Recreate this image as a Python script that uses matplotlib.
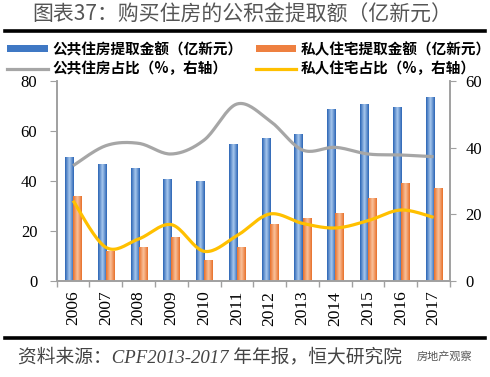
import numpy as np
import matplotlib
matplotlib.use("Agg")
import matplotlib.pyplot as plt
from matplotlib.lines import Line2D
from matplotlib.patches import Patch
from matplotlib.colors import LinearSegmentedColormap

years = ["2006", "2007", "2008", "2009", "2010", "2011", "2012", "2013", "2014", "2015", "2016", "2017"]
public_amt = [49.7, 46.8, 45.2, 40.8, 40.0, 54.9, 57.3, 58.7, 68.8, 70.8, 69.6, 73.6]
private_amt = [34.1, 12.1, 13.7, 17.7, 8.4, 13.7, 22.8, 25.3, 27.3, 33.3, 39.2, 37.3]
public_pct = [34.6, 40.6, 41.3, 38.1, 42.3, 53.1, 48.1, 39.3, 40.1, 38.1, 37.8, 37.3]
private_pct = [24.1, 10.1, 12.6, 16.9, 8.9, 13.6, 20.1, 17.3, 15.9, 18.1, 21.3, 19.1]

labels = ["公共住房提取金额（亿新元）", "私人住宅提取金额（亿新元）",
          "公共住房占比（%，右轴）", "私人住宅占比（%，右轴）"]
title = "图表37：购买住房的公积金提取额（亿新元）"
source = "资料来源：CPF2013-2017 年年报，恒大研究院"

CJK = ["Noto Sans CJK SC", "DejaVu Sans"]
SERIF = ["Liberation Serif", "Noto Sans CJK SC"]

BLUE = "#3f78c4"
ORANGE = "#ee8040"
GRAY = "#a6a6a6"
GOLD = "#ffc000"


def smooth(xs, ys, n=20):
    xs = np.asarray(xs, float)
    ys = np.asarray(ys, float)
    P = np.column_stack([xs, ys])
    P = np.vstack([P[0], P, P[-1]])
    out = []
    for i in range(1, len(P) - 2):
        p0, p1, p2, p3 = P[i - 1], P[i], P[i + 1], P[i + 2]
        t = np.linspace(0, 1, n, endpoint=False)[:, None]
        c1 = p1 + (p2 - p0) / 6
        c2 = p2 - (p3 - p1) / 6
        seg = ((1 - t) ** 3) * p1 + 3 * ((1 - t) ** 2) * t * c1 + 3 * (1 - t) * t ** 2 * c2 + t ** 3 * p2
        out.append(seg)
    out.append(P[-2][None, :])
    out = np.vstack(out)
    return out[:, 0], out[:, 1]


fig = plt.figure(figsize=(4.9, 3.77), dpi=100)
ax = fig.add_axes([56.7 / 490, 1 - 281 / 377, (450 - 56.7) / 490, 200 / 377])
ax2 = ax.twinx()

x = np.arange(len(years))
w = 0.245
bars1 = ax.bar(x - w / 2, public_amt, w, color=BLUE, linewidth=0, zorder=2)
bars2 = ax.bar(x + w / 2, private_amt, w, color=ORANGE, linewidth=0, zorder=2)

cm_blue = LinearSegmentedColormap.from_list("b", ["#2a64b4", "#a8c8ee", "#2a64b4"])
cm_orange = LinearSegmentedColormap.from_list("o", ["#e8702a", "#f9c29c", "#e8702a"])
grad = np.linspace(0, 1, 64)[None, :]
for bars, cmap in ((bars1, cm_blue), (bars2, cm_orange)):
    for b in bars:
        x0, y0 = b.get_x(), b.get_y()
        im = ax.imshow(grad, cmap=cmap, aspect="auto", extent=(x0, x0 + b.get_width(), y0, y0 + b.get_height()),
                       zorder=2.5, interpolation="bilinear")
        im.set_clip_path(b)

sx, sy = smooth(x, public_pct)
ax2.plot(sx, sy, color=GRAY, lw=2.3, solid_capstyle="butt")
sx, sy = smooth(x, private_pct)
ax2.plot(sx, sy, color=GOLD, lw=2.3, solid_capstyle="butt")

ax.set_xlim(-0.5, len(years) - 0.5)
ax.set_ylim(0, 80)
ax2.set_ylim(0, 60)
ax.set_yticks([0, 20, 40, 60, 80])
ax2.set_yticks([0, 20, 40, 60])

ax.set_xticks(x)
ax.set_xticklabels(years, rotation=90, fontfamily=SERIF, fontsize=12.5)
ax.set_xticks(np.arange(-0.5, len(years), 1), minor=True)
ax.tick_params(axis="x", which="major", length=0, pad=7)
ax.tick_params(axis="x", which="minor", length=4, color="#a0a0a0", width=1)
ax.tick_params(axis="y", length=5, color="#a0a0a0", pad=9, labelsize=12)
ax2.tick_params(axis="y", length=4, color="#a0a0a0", pad=7, labelsize=12)
for lab in ax.get_yticklabels() + ax2.get_yticklabels():
    lab.set_fontfamily(SERIF)

for a in (ax, ax2):
    a.spines["top"].set_visible(False)
    for s in ("left", "right", "bottom"):
        a.spines[s].set_color("#a0a0a0")
        a.spines[s].set_linewidth(1.2)

h_pub = Patch(facecolor=BLUE, edgecolor="none")
h_pri = Patch(facecolor=ORANGE, edgecolor="none")
h_pubp = Line2D([], [], color=GRAY, lw=2.3)
h_prip = Line2D([], [], color=GOLD, lw=2.3)
fig.legend([h_pub, h_pubp, h_pri, h_prip], [labels[0], labels[2], labels[1], labels[3]],
           ncol=2, loc="center", bbox_to_anchor=(0.5 + 4 / 490, 1 - 58.5 / 377),
           frameon=False, prop={"family": CJK, "weight": "bold", "size": 10.5},
           handlelength=2.8, handleheight=0.35, handletextpad=0.3, columnspacing=0.9,
           labelspacing=0.2, borderaxespad=0)

fig.text(0.5 - 3 / 490, 1 - 15 / 377, title, ha="center", va="center", fontsize=15, color="#555555",
         fontfamily=CJK, fontweight="light")
fig.add_artist(Line2D([5 / 490, 485 / 490], [1 - 31 / 377, 1 - 31 / 377], color="black", lw=2.6))
fig.add_artist(Line2D([5 / 490, 485 / 490], [1 - 338 / 377, 1 - 338 / 377], color="black", lw=2.6))
fig.text(18 / 490, 1 - 357 / 377, source, ha="left", va="center", fontsize=13.5, color="#444444",
         fontfamily=SERIF, style="italic")
fig.text(472 / 490, 1 - 356 / 377, "房地产观察", ha="right", va="center", fontsize=8, color="#555555",
         fontfamily=CJK, bbox=dict(facecolor="white", edgecolor="none", alpha=0.6, pad=0.5))

fig.savefig("out.png", dpi=100)
